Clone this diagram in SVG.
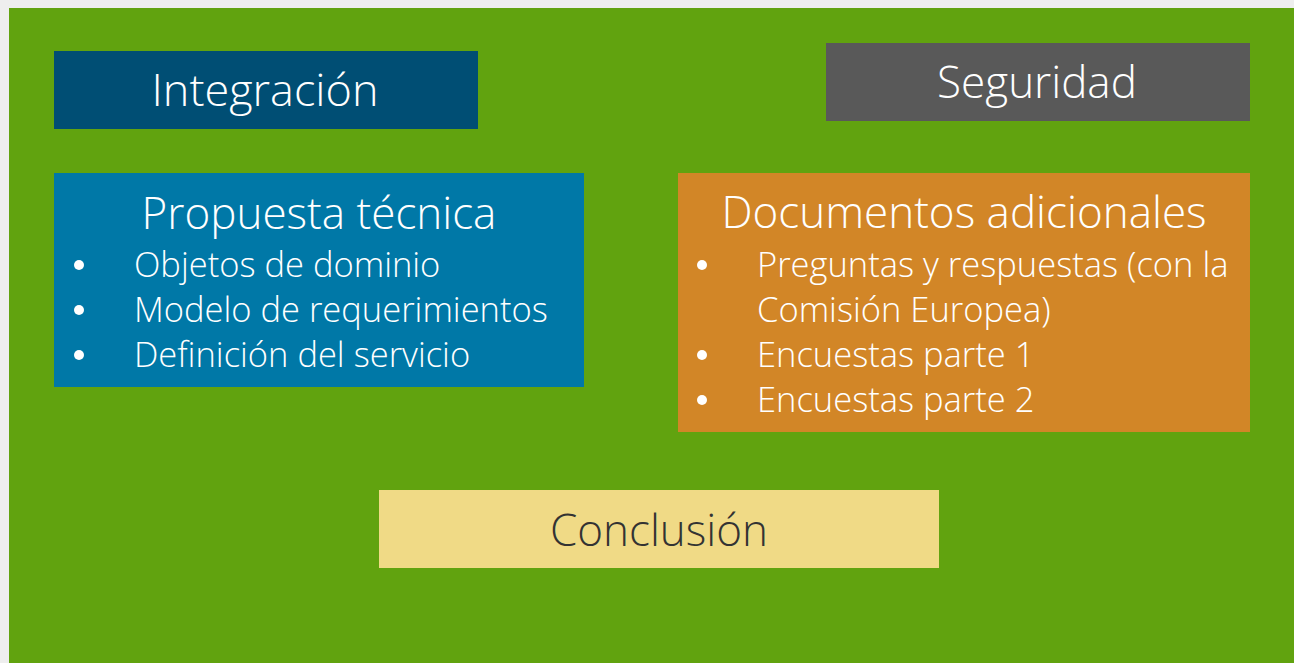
<svg xmlns="http://www.w3.org/2000/svg" width="1294" height="663" viewBox="0 0 1294 663">
<style>
.t{font-family:"Open Sans","Noto Sans","Liberation Sans",sans-serif;font-weight:300;fill:#ffffff}
.h{font-size:44px;text-anchor:middle}
.b{font-size:34.5px}
.dk{fill:#333333}
.dot{fill:#ffffff}
</style>
<rect x="0" y="0" width="1294" height="663" fill="#eeeeee"/>
<rect x="9" y="8" width="1285" height="655" fill="#61a30f"/>
<g id="integracion">
<rect x="54" y="51" width="424" height="78" fill="#004e74"/>
<text class="t h" x="265" y="106" style="font-size:45px">Integración</text>
</g>
<g id="seguridad">
<rect x="826" y="43" width="424" height="78" fill="#595959"/>
<text class="t h" x="1037" y="98">Seguridad</text>
</g>
<g id="propuesta">
<rect x="54" y="173" width="530" height="214" fill="#0078a7"/>
<text class="t h" x="319" y="229">Propuesta técnica</text>
<circle class="dot" cx="79" cy="265" r="5"/>
<circle class="dot" cx="79" cy="310" r="5"/>
<circle class="dot" cx="79" cy="355" r="5"/>
<text class="t b" x="134" y="277">Objetos de dominio</text>
<text class="t b" x="134" y="322">Modelo de requerimientos</text>
<text class="t b" x="134" y="367">Definición del servicio</text>
</g>
<g id="documentos">
<rect x="678" y="173" width="572" height="259" fill="#d28627"/>
<text class="t h" x="964" y="228">Documentos adicionales</text>
<circle class="dot" cx="702" cy="265" r="5"/>
<circle class="dot" cx="702" cy="355" r="5"/>
<circle class="dot" cx="702" cy="400" r="5"/>
<text class="t b" x="757" y="277">Preguntas y respuestas (con la</text>
<text class="t b" x="757" y="322">Comisión Europea)</text>
<text class="t b" x="757" y="367">Encuestas parte 1</text>
<text class="t b" x="757" y="412">Encuestas parte 2</text>
</g>
<g id="conclusion">
<rect x="379" y="490" width="560" height="78" fill="#f0da86"/>
<text class="t h dk" x="659" y="546">Conclusión</text>
</g>
<g id="connectors"/>
</svg>
